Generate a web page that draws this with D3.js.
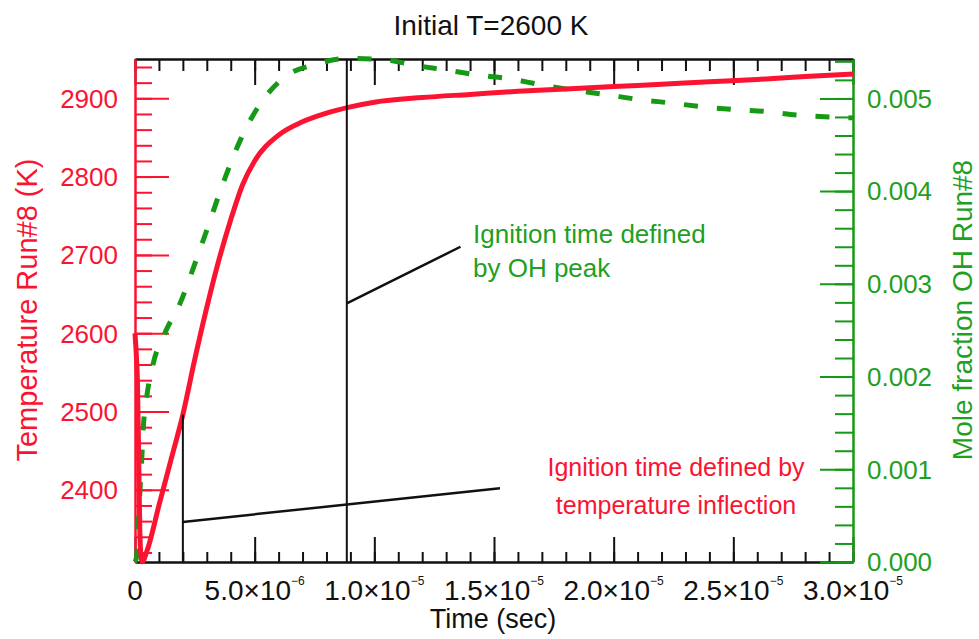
<!DOCTYPE html>
<html>
<head>
<meta charset="utf-8">
<script src="https://cdn.jsdelivr.net/npm/d3@7"></script>
<style>
  html, body { margin: 0; padding: 0; background: #ffffff; }
  svg { display: block; }
  text { font-family: "Liberation Sans", Arial, Helvetica, sans-serif; }
</style>
</head>
<body>
<svg id="chart" width="979" height="639"></svg>
<script>
// ---------------- DATA ----------------
const titleText = "Initial T=2600 K";
const xLabel = "Time (sec)";
const yLeftLabel = "Temperature Run#8 (K)";
const yRightLabel = "Mole fraction OH Run#8";

// Temperature run #8 (K) vs time (s)
const tempTime = [0, 0.05e-6, 0.1e-6, 0.15e-6, 0.2e-6, 0.25e-6, 0.3e-6, 0.5e-6, 1.0e-6, 1.5e-6,
  2.0e-6, 2.5e-6, 3.0e-6, 3.5e-6, 4.0e-6, 4.5e-6, 5.0e-6, 6.0e-6, 7.0e-6, 8.0e-6, 9.0e-6,
  10e-6, 12e-6, 14e-6, 16e-6, 18e-6, 20e-6, 22e-6, 24e-6, 26e-6, 28e-6, 30e-6];
const tempValues = [2600, 2575, 2540, 2450, 2350, 2315, 2308, 2322, 2380, 2438,
  2496, 2567, 2633, 2693, 2745, 2790, 2820, 2853, 2870, 2881, 2889,
  2895, 2901, 2905, 2909, 2912, 2915, 2918, 2921, 2924, 2928, 2931];

// OH mole fraction run #8 vs time (s)
const ohTime = [0, 0.07e-6, 0.14e-6, 0.21e-6, 0.28e-6, 0.35e-6, 0.49e-6, 0.76e-6, 1.25e-6, 1.9e-6,
  2.45e-6, 3.0e-6, 3.7e-6, 4.4e-6, 5.15e-6, 6.2e-6, 7.6e-6, 8.85e-6, 10.4e-6, 11.6e-6, 12.9e-6,
  14.4e-6, 15.7e-6, 16.9e-6, 18.3e-6, 19.7e-6, 21.0e-6, 22.4e-6, 23.7e-6, 25.0e-6, 26.3e-6,
  27.65e-6, 29.0e-6, 30.0e-6];
const ohValues = [0, 0.00006, 0.00042, 0.00078, 0.0011, 0.00146, 0.00178, 0.00214, 0.00247, 0.0028,
  0.00318, 0.00358, 0.0041, 0.00455, 0.00491, 0.00522, 0.00537, 0.00543, 0.00542, 0.00536, 0.00531,
  0.00525, 0.00521, 0.00515, 0.00509, 0.00504, 0.00499, 0.00495, 0.00491, 0.00488, 0.00486,
  0.00482, 0.0048, 0.00479];

// ignition-time markers
const ignitionTimes = [2.0e-6, 8.85e-6];
const ignitionTemps = [2496, null];   // null => full height line

// axes ticks
const xTickValues = [0, 5e-6, 1e-5, 1.5e-5, 2e-5, 2.5e-5, 3e-5];
const xTickMantissa = ["0", "5.0\u00d710", "1.0\u00d710", "1.5\u00d710", "2.0\u00d710", "2.5\u00d710", "3.0\u00d710"];
const xTickExponent = ["", "\u22126", "\u22125", "\u22125", "\u22125", "\u22125", "\u22125"];
const tempTickValues = [2400, 2500, 2600, 2700, 2800, 2900];
const tempTickLabels = ["2400", "2500", "2600", "2700", "2800", "2900"];
const ohTickValues = [0, 0.001, 0.002, 0.003, 0.004, 0.005];
const ohTickLabels = ["0.000", "0.001", "0.002", "0.003", "0.004", "0.005"];

// annotations (text lines) and their pointer segments in data units
const noteOHLines = ["Ignition time defined", "by OH peak"];
const noteTempLines = ["Ignition time defined by", "temperature inflection"];
const pointerOH = [[8.85e-6, 0.00279], [13.6e-6, 0.0034]];       // (time, OH)
const pointerTemp = [[2.0e-6, 2359], [15.25e-6, 2402]];           // (time, T)

// ---------------- LAYOUT ----------------
const RED = "#fb1432", GREEN = "#169a16", GREEN_TXT = "#1fa01f";
const L = 135, R = 853, T = 59, B = 562;

const svg = d3.select("#chart");

const x = d3.scaleLinear().domain([0, 3e-5]).range([L, R]);
const yT = d3.scaleLinear().domain([2307.8, 2950.2]).range([B, T]);
const yOH = d3.scaleLinear().domain([0, 0.005425]).range([B, T]);

function styleAxis(g, color, w) {
  g.selectAll("path.domain").attr("stroke", color).attr("stroke-width", w);
  g.selectAll(".tick line").attr("stroke", color).attr("stroke-width", w);
  g.selectAll(".tick text").remove();
}

// minor/major tick sets
const xMinor = d3.range(0, 31).map(i => i * 1e-6);
const tMinor = d3.range(2320, 2950, 20);
const ohMinor = d3.range(0, 28).map(i => i * 0.0002);

// bottom axis
svg.append("g").attr("transform", `translate(0,${B})`)
  .call(d3.axisBottom(x).tickValues(xMinor).tickSize(-10).tickSizeOuter(0).tickFormat(""))
  .call(g => styleAxis(g, "#111", 2));
svg.append("g").attr("transform", `translate(0,${B})`)
  .call(d3.axisBottom(x).tickValues(xTickValues).tickSize(-25).tickSizeOuter(0).tickFormat(""))
  .call(g => styleAxis(g, "#111", 2));
// top axis
svg.append("g").attr("transform", `translate(0,${T})`)
  .call(d3.axisTop(x).tickValues(xMinor).tickSize(-12).tickSizeOuter(0).tickFormat(""))
  .call(g => styleAxis(g, "#111", 2));
svg.append("g").attr("transform", `translate(0,${T})`)
  .call(d3.axisTop(x).tickValues(xTickValues).tickSize(-26).tickSizeOuter(0).tickFormat(""))
  .call(g => styleAxis(g, "#111", 2));

// left (temperature) axis
svg.append("g").attr("transform", `translate(${L},0)`)
  .call(d3.axisLeft(yT).tickValues(tMinor).tickSize(-17).tickSizeOuter(0).tickFormat(""))
  .call(g => styleAxis(g, RED, 2));
svg.append("g").attr("transform", `translate(${L},0)`)
  .call(d3.axisLeft(yT).tickValues(tempTickValues).tickSize(-34).tickSizeOuter(0).tickFormat(""))
  .call(g => styleAxis(g, RED, 2));

// right (OH) axis
svg.append("g").attr("transform", `translate(${R},0)`)
  .call(d3.axisRight(yOH).tickValues(ohMinor).tickSize(-18).tickSizeOuter(0).tickFormat(""))
  .call(g => styleAxis(g, GREEN, 2));
svg.append("g").attr("transform", `translate(${R},0)`)
  .call(d3.axisRight(yOH).tickValues(ohTickValues).tickSize(-33).tickSizeOuter(0).tickFormat(""))
  .call(g => styleAxis(g, GREEN, 2));

// ---- curves ----
const tempData = tempTime.map((t, i) => [t, tempValues[i]]);
const ohData = ohTime.map((t, i) => [t, ohValues[i]]);

svg.append("path")
  .attr("d", d3.line().x(d => x(d[0])).y(d => yOH(d[1])).curve(d3.curveMonotoneX)(ohData))
  .attr("fill", "none").attr("stroke", GREEN).attr("stroke-width", 5)
  .attr("stroke-dasharray", "14,19");

svg.append("path")
  .attr("d", d3.line().x(d => x(d[0])).y(d => yT(d[1])).curve(d3.curveMonotoneX)(tempData))
  .attr("fill", "none").attr("stroke", RED).attr("stroke-width", 5)
  .attr("stroke-linejoin", "round");

// ignition markers
ignitionTimes.forEach((t, i) => {
  svg.append("line")
    .attr("x1", x(t)).attr("x2", x(t))
    .attr("y1", ignitionTemps[i] == null ? yT.range()[1] : yT(ignitionTemps[i]))
    .attr("y2", yT.range()[0])
    .attr("stroke", "#111").attr("stroke-width", 2);
});

// pointer lines
svg.append("line")
  .attr("x1", x(pointerOH[0][0])).attr("y1", yOH(pointerOH[0][1]))
  .attr("x2", x(pointerOH[1][0])).attr("y2", yOH(pointerOH[1][1]))
  .attr("stroke", "#111").attr("stroke-width", 2.5);
svg.append("line")
  .attr("x1", x(pointerTemp[0][0])).attr("y1", yT(pointerTemp[0][1]))
  .attr("x2", x(pointerTemp[1][0])).attr("y2", yT(pointerTemp[1][1]))
  .attr("stroke", "#111").attr("stroke-width", 2.5);

// ---- tick labels ----
xTickValues.forEach((v, i) => {
  const t = svg.append("text")
    .attr("x", x(v)).attr("y", 600)
    .attr("text-anchor", "middle")
    .attr("font-size", 28).attr("fill", "#111");
  t.append("tspan").text(xTickMantissa[i]);
  if (xTickExponent[i]) {
    t.append("tspan").attr("font-size", 12).attr("dy", -15).text(xTickExponent[i]);
  }
});

tempTickValues.forEach((v, i) => {
  svg.append("text")
    .attr("x", 118).attr("y", yT(v)).attr("dy", "0.36em")
    .attr("text-anchor", "end").attr("font-size", 26).attr("fill", RED)
    .text(tempTickLabels[i]);
});

ohTickValues.forEach((v, i) => {
  svg.append("text")
    .attr("x", 867).attr("y", yOH(v)).attr("dy", "0.36em")
    .attr("text-anchor", "start").attr("font-size", 26).attr("fill", GREEN_TXT)
    .text(ohTickLabels[i]);
});

// ---- titles ----
svg.append("text").attr("x", 491).attr("y", 35).attr("text-anchor", "middle")
  .attr("font-size", 28).attr("fill", "#111").text(titleText);
svg.append("text").attr("x", 493).attr("y", 628).attr("text-anchor", "middle")
  .attr("font-size", 27).attr("fill", "#111").text(xLabel);
svg.append("text").attr("transform", "translate(37,310) rotate(-90)")
  .attr("text-anchor", "middle").attr("font-size", 29).attr("fill", RED).text(yLeftLabel);
svg.append("text").attr("transform", "translate(972,310) rotate(-90)")
  .attr("text-anchor", "middle").attr("font-size", 28).attr("fill", GREEN_TXT).text(yRightLabel);

// ---- annotation texts ----
noteOHLines.forEach((s, i) => {
  svg.append("text").attr("x", 473).attr("y", 243 + i * 34)
    .attr("font-size", 26).attr("fill", GREEN_TXT).text(s);
});
noteTempLines.forEach((s, i) => {
  svg.append("text").attr("x", 676).attr("y", 476 + i * 38)
    .attr("text-anchor", "middle")
    .attr("font-size", 25).attr("fill", RED).text(s);
});
</script>
</body>
</html>
